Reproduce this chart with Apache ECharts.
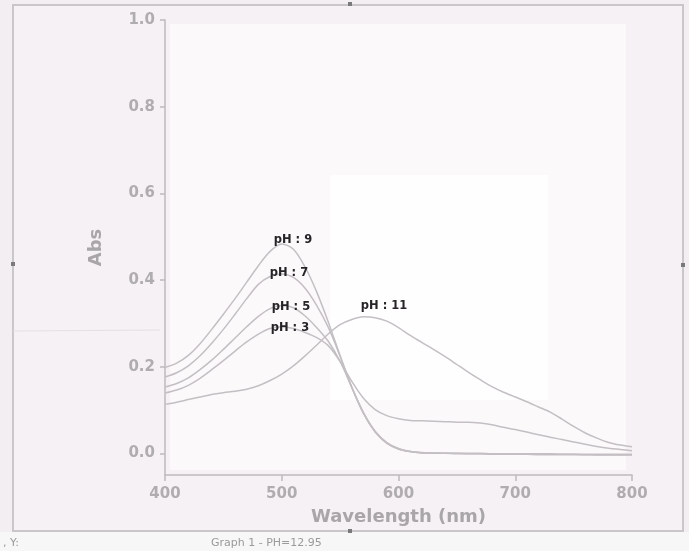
<!DOCTYPE html>
<html>
<head>
<meta charset="utf-8">
<script src="https://cdn.jsdelivr.net/npm/echarts@6/dist/echarts.min.js"></script>
<style>
html,body{margin:0;padding:0;background:#f3eef2;}
#chart{width:689px;height:551px;}
</style>
</head>
<body>
<div id="chart"></div>
<script>
// ---- data ----
const wavelengths = [400,410,420,430,440,450,460,470,480,490,500,510,520,530,540,550,560,570,580,590,600,610,620,630,640,650,660,670,680,690,700,710,720,730,740,750,760,770,780,790,800];
const absPH9 = [0.198,0.208,0.226,0.253,0.286,0.321,0.357,0.395,0.433,0.466,0.483,0.471,0.430,0.372,0.302,0.225,0.152,0.092,0.049,0.023,0.010,0.004,0.001,0.000,0.000,-0.001,-0.001,-0.001,-0.002,-0.002,-0.002,-0.002,-0.003,-0.003,-0.003,-0.003,-0.003,-0.004,-0.004,-0.004,-0.004];
const absPH7 = [0.176,0.186,0.202,0.225,0.254,0.286,0.321,0.357,0.390,0.408,0.414,0.406,0.381,0.341,0.290,0.224,0.153,0.093,0.050,0.024,0.010,0.004,0.001,0.000,0.000,0.000,-0.001,-0.001,-0.001,-0.001,-0.002,-0.002,-0.002,-0.002,-0.002,-0.002,-0.003,-0.003,-0.003,-0.003,-0.003];
const absPH5 = [0.153,0.161,0.174,0.193,0.215,0.240,0.266,0.292,0.316,0.334,0.341,0.336,0.317,0.290,0.258,0.212,0.152,0.094,0.051,0.025,0.011,0.004,0.002,0.001,0.000,0.000,0.000,0.000,-0.001,-0.001,-0.001,-0.001,-0.001,-0.001,-0.002,-0.002,-0.002,-0.002,-0.002,-0.002,-0.002];
const absPH3 = [0.139,0.146,0.157,0.173,0.193,0.214,0.236,0.257,0.275,0.288,0.292,0.288,0.279,0.267,0.248,0.212,0.166,0.127,0.101,0.087,0.080,0.076,0.075,0.074,0.073,0.072,0.072,0.070,0.066,0.060,0.055,0.049,0.043,0.037,0.032,0.026,0.021,0.016,0.012,0.009,0.006];
const absPH11 = [0.113,0.118,0.124,0.130,0.136,0.140,0.143,0.148,0.156,0.168,0.183,0.202,0.225,0.250,0.276,0.297,0.309,0.315,0.313,0.305,0.290,0.272,0.256,0.240,0.223,0.205,0.187,0.170,0.154,0.141,0.130,0.119,0.107,0.095,0.079,0.062,0.047,0.035,0.025,0.019,0.015];
const seriesNames = ['pH : 9','pH : 7','pH : 5','pH : 3','pH : 11'];
const yTickValues = [0,0.2,0.4,0.6,0.8,1.0];
const xTickValues = [400,500,600,700,800];
// label anchor points (data units) for the curve annotations
const labelAnchorX = [509.6,506.2,507.9,507.0,587.6];
const labelAnchorY = [0.492,0.416,0.338,0.289,0.340];

const seriesValues = [absPH9, absPH7, absPH5, absPH3, absPH11];

const chart = echarts.init(document.getElementById('chart'), null, {renderer:'canvas'});
const lineColor = '#c3bfc3';
const series = seriesValues.map((vals, i) => ({
  name: seriesNames[i],
  type: 'line',
  data: wavelengths.map((w, k) => [w, vals[k]]),
  showSymbol: false,
  smooth: 0.3,
  lineStyle: {color: lineColor, width: 1.5},
  z: 3,
  markPoint: {
    symbol: 'circle', symbolSize: 0, silent: true,
    data: [{coord: [labelAnchorX[i], labelAnchorY[i]], value: seriesNames[i]}],
    label: {show: true, position: 'inside', formatter: seriesNames[i], color: '#262426', fontSize: 11.5, fontWeight: 'bold', fontFamily: 'DejaVu Sans'}
  }
}));

const option = {
  backgroundColor: '#f3eef2',
  animation: false,
  graphic: [
    {type:'rect', z:-20, shape:{x:13,y:5,width:670,height:526}, style:{fill:'#f6f1f4', stroke:'#c9c7c9', lineWidth:2}},
    {type:'rect', z:-19, shape:{x:170,y:24,width:456,height:446}, style:{fill:'#fcf9fb'}},
    {type:'rect', z:-18, shape:{x:330,y:175,width:218,height:225}, style:{fill:'#fffeff'}},
    {type:'rect', z:-17, shape:{x:0,y:532,width:689,height:19}, style:{fill:'#f7f7f7'}},
    {type:'line', z:-16, shape:{x1:13,y1:331,x2:160,y2:330}, style:{stroke:'#e4e0e6', lineWidth:1}},
    {type:'rect', z:5, shape:{x:348,y:2,width:4,height:4}, style:{fill:'#7a7a7a'}},
    {type:'rect', z:5, shape:{x:11,y:262,width:4,height:4}, style:{fill:'#7a7a7a'}},
    {type:'rect', z:5, shape:{x:681,y:263,width:4,height:4}, style:{fill:'#7a7a7a'}},
    {type:'rect', z:5, shape:{x:348,y:529,width:4,height:4}, style:{fill:'#7a7a7a'}},
    {type:'text', z:5, style:{x:3, y:543, text:', Y:', fill:'#9a9a9a', font:'11px "DejaVu Sans"', verticalAlign:'middle'}},
    {type:'text', z:5, style:{x:211, y:543, text:'Graph 1 - PH=12.95', fill:'#9a9a9a', font:'11px "DejaVu Sans"', verticalAlign:'middle'}}
  ],
  grid: {left:165, right:57, top:20, bottom:76, containLabel:false},
  xAxis: {
    type:'value', min:400, max:800, interval:100,
    name:'Wavelength (nm)', nameLocation:'middle', nameGap:33,
    nameTextStyle:{color:'#a9a6a9', fontSize:18, fontWeight:'bold', fontFamily:'DejaVu Sans'},
    axisLine:{show:true, onZero:false, lineStyle:{color:'#bdbabd', width:1.5}},
    axisTick:{show:true, length:6, inside:false, customValues: xTickValues, lineStyle:{color:'#bdbabd', width:1.5}},
    axisLabel:{color:'#b0adb0', fontSize:15, fontWeight:'bold', fontFamily:'DejaVu Sans', margin:12, customValues: xTickValues},
    splitLine:{show:false}
  },
  yAxis: {
    type:'value', min:-0.05, max:1.0,
    name:'Abs', nameLocation:'middle', nameGap:60,
    nameTextStyle:{color:'#a9a6a9', fontSize:18, fontWeight:'bold', fontFamily:'DejaVu Sans'},
    axisLine:{show:true, onZero:false, lineStyle:{color:'#bdbabd', width:1.5}},
    axisTick:{show:true, length:5, inside:false, customValues: yTickValues, lineStyle:{color:'#bdbabd', width:1.5}},
    axisLabel:{color:'#b0adb0', fontSize:15, fontWeight:'bold', fontFamily:'DejaVu Sans', margin:10, customValues: yTickValues, formatter: v => v.toFixed(1)},
    splitLine:{show:false}
  },
  series: series
};
chart.setOption(option);
</script>
</body>
</html>
